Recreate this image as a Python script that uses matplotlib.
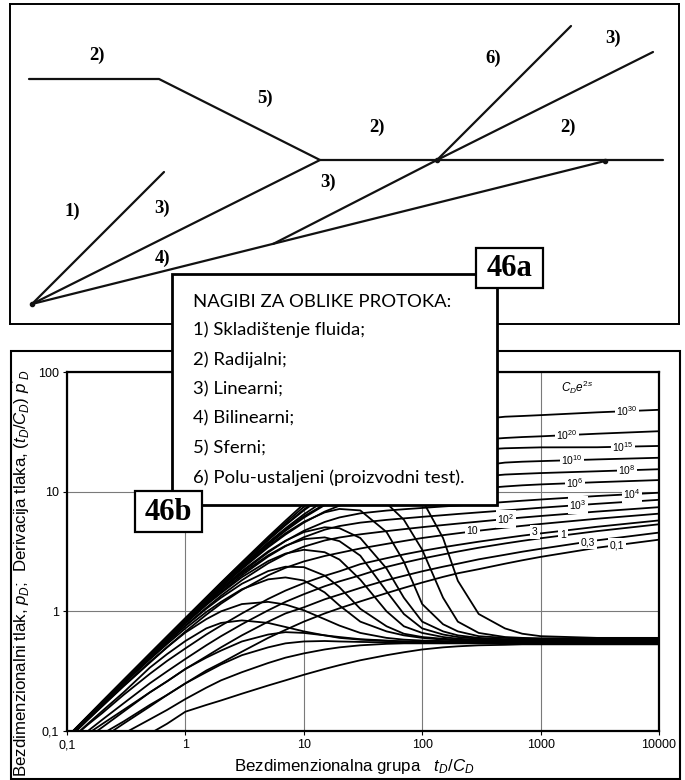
import matplotlib
matplotlib.use('Agg')
import matplotlib.pyplot as plt
from matplotlib.patches import Rectangle

plt.rcParams['font.family'] = ['Liberation Sans', 'DejaVu Sans']
plt.rcParams['mathtext.fontset'] = 'custom'
plt.rcParams['mathtext.rm'] = 'Liberation Sans'
plt.rcParams['mathtext.it'] = 'Liberation Sans:italic'

# ---------------- data: type curves ----------------
tD_CD = [0.1, 0.15, 0.2, 0.3, 0.5, 0.7, 1, 1.5, 2, 3, 5, 7, 10, 15, 20, 30, 50, 70,
         100, 150, 200, 300, 500, 700, 1000, 3000, 10000]

# dimensionless pressure p_D for each C_D e^{2s}
p_1e30 = [0.089, 0.133, 0.178, 0.266, 0.442, 0.617, 0.879, 1.31, 1.74, 2.57, 4.19, 5.72, 7.89, 11.2, 14.1, 19.0, 25.9, 30.2, 33.8, 36.4, 38.0, 40.2, 42.3, 42.9, 43.6, 46.0, 48.3]
p_1e20 = [0.0888, 0.133, 0.177, 0.265, 0.441, 0.615, 0.873, 1.30, 1.72, 2.53, 4.07, 5.50, 7.47, 10.3, 12.7, 16.4, 21.0, 23.3, 24.9, 25.9, 26.5, 27.1, 28.1, 28.6, 29.0, 30.5, 32.0]
p_1e15 = [0.0888, 0.133, 0.177, 0.265, 0.439, 0.612, 0.868, 1.29, 1.70, 2.48, 3.96, 5.30, 7.09, 9.60, 11.6, 14.5, 17.6, 19.0, 19.8, 20.8, 21.6, 22.4, 23.05, 23.25, 23.45, 23.5, 24.1]
p_1e10 = [0.0886, 0.133, 0.177, 0.264, 0.437, 0.607, 0.858, 1.26, 1.66, 2.40, 3.75, 4.94, 6.46, 8.42, 9.86, 11.7, 13.3, 13.9, 14.2, 15.0, 15.6, 16.4, 17.5, 17.8, 18.0, 18.6, 19.2]
p_1e8 = [0.0885, 0.132, 0.176, 0.263, 0.435, 0.603, 0.850, 1.25, 1.63, 2.35, 3.62, 4.71, 6.06, 7.72, 8.87, 10.2, 11.3, 11.7, 11.9, 12.4, 12.8, 13.3, 13.9, 14.1, 14.3, 14.8, 15.4]
p_1e6 = [0.0884, 0.132, 0.176, 0.262, 0.431, 0.597, 0.838, 1.22, 1.59, 2.26, 3.43, 4.38, 5.51, 6.81, 7.64, 8.55, 9.19, 9.42, 9.62, 9.9, 10.2, 10.6, 11.05, 11.3, 11.5, 12.0, 12.5]
p_1e4 = [0.088, 0.131, 0.174, 0.259, 0.424, 0.585, 0.815, 1.18, 1.51, 2.12, 3.11, 3.87, 4.71, 5.58, 6.09, 6.59, 6.95, 7.13, 7.31, 7.52, 7.66, 7.9, 8.2, 8.4, 8.6, 9.2, 9.8]
p_1e3 = [0.0876, 0.131, 0.173, 0.256, 0.418, 0.573, 0.795, 1.14, 1.45, 2.00, 2.87, 3.50, 4.16, 4.81, 5.16, 5.51, 5.81, 5.98, 6.16, 6.36, 6.51, 6.71, 6.97, 7.14, 7.34, 7.92, 8.55]
p_1e2 = [0.0865, 0.129, 0.170, 0.251, 0.406, 0.552, 0.759, 1.07, 1.35, 1.82, 2.52, 3.00, 3.47, 3.91, 4.14, 4.40, 4.68, 4.86, 5.05, 5.26, 5.41, 5.62, 5.90, 6.08, 6.26, 6.82, 7.42]
p_10 = [0.084, 0.124, 0.162, 0.236, 0.372, 0.501, 0.678, 0.936, 1.16, 1.51, 2.00, 2.31, 2.61, 2.90, 3.08, 3.35, 3.66, 3.87, 4.1, 4.33, 4.49, 4.72, 5.0, 5.18, 5.37, 5.94, 6.55]
p_3 = [0.08, 0.113, 0.142, 0.2, 0.3, 0.385, 0.49, 0.64, 0.76, 0.96, 1.27, 1.49, 1.72, 1.98, 2.16, 2.48, 2.78, 2.99, 3.2, 3.43, 3.59, 3.82, 4.1, 4.29, 4.48, 5.09, 5.75]
p_1 = [0.072, 0.1, 0.125, 0.17, 0.25, 0.315, 0.4, 0.52, 0.62, 0.78, 1.02, 1.2, 1.39, 1.62, 1.78, 2.0, 2.35, 2.55, 2.76, 2.99, 3.16, 3.4, 3.69, 3.88, 4.08, 4.68, 5.34]
p_0_3 = [0.065, 0.088, 0.108, 0.145, 0.21, 0.26, 0.33, 0.42, 0.5, 0.63, 0.82, 0.96, 1.08, 1.26, 1.38, 1.57, 1.82, 1.98, 2.16, 2.36, 2.5, 2.72, 2.97, 3.15, 3.33, 3.92, 4.55]
p_0_1 = [0.055, 0.072, 0.088, 0.115, 0.16, 0.2, 0.25, 0.32, 0.37, 0.46, 0.6, 0.7, 0.82, 0.96, 1.06, 1.21, 1.42, 1.57, 1.74, 1.94, 2.08, 2.25, 2.5, 2.67, 2.85, 3.4, 3.97]

# pressure derivative (t_D/C_D) p_D'
d_1e30 = [0.0888, 0.133, 0.177, 0.265, 0.439, 0.612, 0.868, 1.29, 1.69, 2.48, 3.93, 5.25, 6.97, 9.26, 11.0, 13.0, 13.5, 11.9, 8.54, 4.1, 1.8, 0.95, 0.72, 0.65, 0.62, 0.60, 0.60]
d_1e20 = [0.0886, 0.133, 0.176, 0.264, 0.436, 0.607, 0.857, 1.26, 1.65, 2.39, 3.71, 4.84, 6.22, 7.85, 8.8, 9.39, 8.0, 5.83, 3.27, 1.3, 0.82, 0.66, 0.61, 0.6, 0.595, 0.595, 0.595]
d_1e15 = [0.0885, 0.132, 0.176, 0.263, 0.434, 0.602, 0.847, 1.24, 1.62, 2.31, 3.51, 4.49, 5.60, 6.71, 7.17, 6.97, 4.6, 2.6, 1.15, 0.78, 0.68, 0.62, 0.6, 0.59, 0.59, 0.59, 0.59]
d_1e10 = [0.0883, 0.132, 0.175, 0.261, 0.429, 0.592, 0.828, 1.20, 1.55, 2.17, 3.17, 3.89, 4.59, 5.04, 4.95, 4.10, 2.28, 1.3, 0.82, 0.68, 0.63, 0.6, 0.585, 0.585, 0.585, 0.585, 0.585]
d_1e8 = [0.0881, 0.1315, 0.1745, 0.26, 0.425, 0.584, 0.814, 1.17, 1.50, 2.07, 2.94, 3.53, 4.01, 4.15, 3.86, 2.92, 1.47, 0.95, 0.72, 0.64, 0.61, 0.59, 0.58, 0.58, 0.58, 0.58, 0.58]
d_1e6 = [0.0877, 0.131, 0.173, 0.257, 0.419, 0.573, 0.792, 1.13, 1.42, 1.93, 2.63, 3.04, 3.27, 3.12, 2.71, 1.84, 1.0, 0.75, 0.66, 0.61, 0.59, 0.58, 0.575, 0.575, 0.575, 0.575, 0.575]
d_1e4 = [0.087, 0.129, 0.171, 0.252, 0.407, 0.552, 0.753, 1.05, 1.30, 1.70, 2.17, 2.36, 2.34, 1.99, 1.59, 1.05, 0.75, 0.65, 0.61, 0.59, 0.58, 0.575, 0.57, 0.57, 0.57, 0.57, 0.57]
d_1e3 = [0.0864, 0.128, 0.169, 0.248, 0.396, 0.533, 0.720, 0.986, 1.20, 1.53, 1.85, 1.92, 1.81, 1.44, 1.12, 0.82, 0.68, 0.63, 0.60, 0.58, 0.57, 0.565, 0.565, 0.565, 0.565, 0.565, 0.565]
d_1e2 = [0.085, 0.125, 0.164, 0.239, 0.377, 0.501, 0.665, 0.86, 1.0, 1.15, 1.2, 1.14, 1.02, 0.86, 0.76, 0.66, 0.6, 0.58, 0.57, 0.565, 0.56, 0.56, 0.56, 0.56, 0.56, 0.56, 0.56]
d_10 = [0.08, 0.115, 0.148, 0.21, 0.338, 0.439, 0.565, 0.72, 0.8, 0.84, 0.8, 0.74, 0.68, 0.63, 0.6, 0.58, 0.565, 0.56, 0.555, 0.555, 0.555, 0.555, 0.555, 0.555, 0.555, 0.555, 0.555]
d_3 = [0.068, 0.095, 0.115, 0.15, 0.21, 0.26, 0.33, 0.41, 0.47, 0.56, 0.64, 0.67, 0.66, 0.63, 0.61, 0.585, 0.57, 0.56, 0.555, 0.55, 0.55, 0.55, 0.55, 0.55, 0.55, 0.55, 0.55]
d_1 = [0.06, 0.08, 0.095, 0.12, 0.165, 0.2, 0.25, 0.31, 0.36, 0.43, 0.5, 0.54, 0.56, 0.565, 0.56, 0.555, 0.55, 0.545, 0.545, 0.545, 0.545, 0.545, 0.545, 0.545, 0.545, 0.545, 0.545]
d_0_3 = [0.05, 0.065, 0.077, 0.095, 0.125, 0.15, 0.185, 0.23, 0.265, 0.31, 0.37, 0.41, 0.445, 0.48, 0.5, 0.52, 0.535, 0.54, 0.54, 0.54, 0.54, 0.54, 0.54, 0.54, 0.54, 0.54, 0.54]
d_0_1 = [0.04, 0.052, 0.062, 0.075, 0.095, 0.115, 0.145, 0.165, 0.18, 0.205, 0.24, 0.265, 0.295, 0.33, 0.355, 0.39, 0.43, 0.455, 0.48, 0.5, 0.51, 0.52, 0.525, 0.53, 0.53, 0.53, 0.53]

curve_labels = ['$10^{30}$', '$10^{20}$', '$10^{15}$', '$10^{10}$', '$10^{8}$', '$10^{6}$',
                '$10^{4}$', '$10^{3}$', '$10^{2}$', '10', '3', '1', '0,3', '0,1']
pressure_curves = [p_1e30, p_1e20, p_1e15, p_1e10, p_1e8, p_1e6, p_1e4, p_1e3, p_1e2,
                   p_10, p_3, p_1, p_0_3, p_0_1]
derivative_curves = [d_1e30, d_1e20, d_1e15, d_1e10, d_1e8, d_1e6, d_1e4, d_1e3, d_1e2,
                     d_10, d_3, d_1, d_0_3, d_0_1]
# where each label sits on its pressure line (t_D/C_D, p_D)
label_x = [5370, 1670, 4970, 1840, 5370, 1950, 5920, 2070, 511, 264, 897, 1545, 2510, 4415]
label_y = [47.2, 29.8, 23.6, 18.4, 15.2, 11.8, 9.57, 7.74, 5.91, 4.69, 4.6, 4.35, 3.79, 3.58]

x_ticks = [0.1, 1, 10, 100, 1000, 10000]
x_tick_labels = ['0,1', '1', '10', '100', '1000', '10000']
y_ticks = [0.1, 1, 10, 100]
y_tick_labels = ['0,1', '1', '10', '100']

# ---------------- data: flow-regime schematic (46a), log-log units ----------------
seg_1_u, seg_1_v = [0, 1.32], [0, 1.32]                      # 1) slope 1
seg_3a_u, seg_3a_v = [0, 2.88, 6.31], [0, 1.44, 1.44]        # 3) slope 1/2 then 2) flat
seg_25_u, seg_25_v = [-0.03, 1.27, 2.88], [2.25, 2.25, 1.44]  # 2) flat then 5) slope -1/2
seg_4_u, seg_4_v = [0, 5.73], [0, 1.43]                      # 4) slope 1/4
seg_3b_u, seg_3b_v = [2.41, 4.05], [0.60, 1.44]              # 3) slope 1/2
seg_6_u, seg_6_v = [4.05, 5.39], [1.44, 2.78]                # 6) slope 1
seg_3c_u, seg_3c_v = [4.05, 6.21], [1.44, 2.52]              # 3) slope 1/2
regime_text = ['2)', '5)', '1)', '3)', '4)', '3)', '2)', '6)', '3)', '2)']
regime_u = [0.65, 2.33, 0.40, 1.30, 1.31, 2.96, 3.45, 4.61, 5.81, 5.36]
regime_v = [2.49, 2.06, 0.93, 0.96, 0.46, 1.22, 1.77, 2.46, 2.66, 1.77]

legend_lines = ['NAGIBI ZA OBLIKE PROTOKA:', '1) Skladištenje fluida;', '2) Radijalni;',
                '3) Linearni;', '4) Bilinearni;', '5) Sferni;',
                '6) Polu-ustaljeni (proizvodni test).']

# ---------------- figure ----------------
W, H = 685, 780
fig = plt.figure(figsize=(6.85, 7.8), dpi=100)


def fx(px):
    return px / W


def fy(py):
    return 1 - py / H


# top schematic panel
at = fig.add_axes([fx(10), fy(324), fx(679) - fx(10), fy(4) - fy(324)], zorder=1)
at.set_xlim(-0.22, 6.47)
at.set_ylim(-0.2, 3.0)
at.set_xticks([])
at.set_yticks([])
for s in at.spines.values():
    s.set_linewidth(1.4)
for u, v in [(seg_1_u, seg_1_v), (seg_3a_u, seg_3a_v), (seg_25_u, seg_25_v),
             (seg_4_u, seg_4_v), (seg_3b_u, seg_3b_v), (seg_6_u, seg_6_v),
             (seg_3c_u, seg_3c_v)]:
    at.plot(u, v, color='#111111', lw=1.6, solid_capstyle='round', solid_joinstyle='round')
at.plot([0, 4.05, 5.73], [0, 1.44, 1.43], 'o', color='#111111', ms=3)
for t, u, v in zip(regime_text, regime_u, regime_v):
    at.text(u, v, t, ha='center', va='center', fontsize=13.5, fontweight='bold',
            family='Liberation Serif')

# bottom type-curve axes
ax = fig.add_axes([fx(67), fy(731), fx(659) - fx(67), fy(372) - fy(731)], zorder=2)
ax.set_xscale('log')
ax.set_yscale('log')
ax.set_xlim(0.1, 10000)
ax.set_ylim(0.1, 100)
ax.set_xticks(x_ticks)
ax.set_xticklabels(x_tick_labels)
ax.set_yticks(y_ticks)
ax.set_yticklabels(y_tick_labels)
ax.minorticks_off()
ax.tick_params(direction='out', length=3, width=0.8, labelsize=9, pad=3)
ax.grid(True, which='major', color='#7a7a7a', lw=0.8)
ax.set_axisbelow(True)
for s in ax.spines.values():
    s.set_linewidth(1.6)

for pc in pressure_curves:
    ax.plot(tD_CD, pc, color='black', lw=1.3, solid_joinstyle='round')
for dc in derivative_curves:
    ax.plot(tD_CD, dc, color='black', lw=1.3, solid_joinstyle='round')
for lab, lx, ly in zip(curve_labels, label_x, label_y):
    ax.text(lx, ly, lab, ha='center', va='center', fontsize=7.5, zorder=5,
            bbox=dict(facecolor='white', edgecolor='none', pad=1.2))
ax.text(2030, 75, '$C_D e^{2s}$', ha='center', va='center', fontsize=8.5)

# overlay: frames, legend box, captions
ov = fig.add_axes([0, 0, 1, 1], zorder=10)
ov.set_xlim(0, W)
ov.set_ylim(H, 0)
ov.axis('off')
ov.patch.set_alpha(0)

ov.add_patch(Rectangle((11, 351), 669, 428, fill=False, lw=1.5, ec='black'))
ov.add_patch(Rectangle((172, 274), 325, 231, fc='white', ec='black', lw=2.0, zorder=3))
ov.add_patch(Rectangle((476, 248), 67, 40, fc='white', ec='black', lw=1.6, zorder=4))
ov.add_patch(Rectangle((135, 491), 67, 41, fc='white', ec='black', lw=1.6, zorder=4))
ov.text(509.5, 269, '46a', ha='center', va='center', fontsize=22, fontweight='bold',
        family='Liberation Serif', zorder=5)
ov.text(168.5, 512, '46b', ha='center', va='center', fontsize=22, fontweight='bold',
        family='Liberation Serif', zorder=5)

legend_y = [302, 330, 360, 389, 418, 448, 478]
for t, y in zip(legend_lines, legend_y):
    ov.text(193, y, t, ha='left', va='center', fontsize=13.3, family='Lato', zorder=5)

ov.text(354, 766, 'Bezdimenzionalna grupa   $t_D/C_D$', ha='center', va='center',
        fontsize=12.2)
ov.text(21, 573, "Bezdimenzionalni tlak, $p_D$;  Derivacija tlaka, $(t_D/C_D)\\ p'_D$",
        ha='center', va='center', rotation=90, fontsize=12.2)

fig.savefig('out.png', dpi=100)
